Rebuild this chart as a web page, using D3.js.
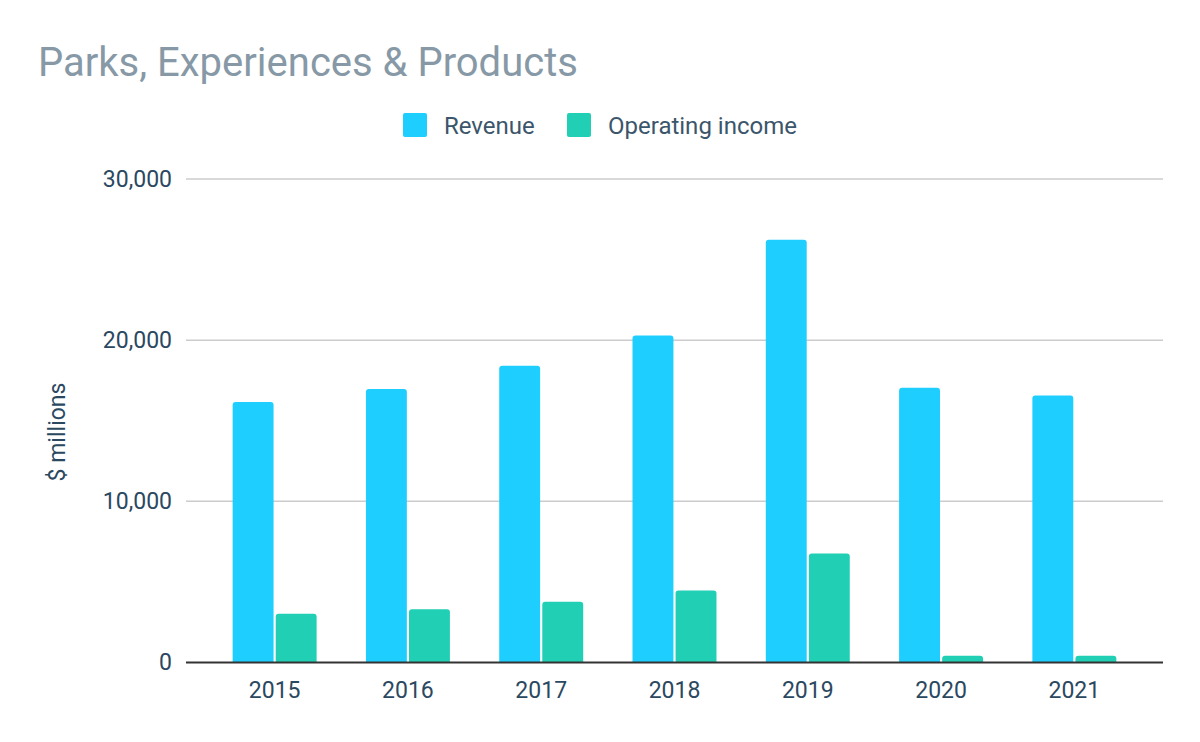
<!DOCTYPE html>
<html>
<head>
<meta charset="utf-8">
<script src="https://cdn.jsdelivr.net/npm/d3@7"></script>
<style>
  html, body { margin: 0; padding: 0; background: #fff; }
  svg text { font-family: Roboto, "Noto Sans", sans-serif; }
</style>
</head>
<body>
<svg id="chart" width="1200" height="742"></svg>
<script>
const years = ["2015", "2016", "2017", "2018", "2019", "2020", "2021"];
const revenue = [16162, 16974, 18415, 20296, 26225, 17040, 16560];
const operatingIncome = [3031, 3298, 3774, 4469, 6758, 420, 420];
const seriesNames = ["Revenue", "Operating income"];
const seriesColors = ["#1ECEFF", "#21CFB5"];
const yTicks = [0, 10000, 20000, 30000];

const svg = d3.select("#chart");
const W = 1200, H = 742;
const margin = { left: 186, right: 37, top: 179, bottom: 80 };
const plotBottom = 662.5;

const x = d3.scaleBand().domain(years).range([margin.left, W - margin.right])
  .paddingInner(0.37).paddingOuter(0.35);
const x1 = d3.scaleBand().domain(seriesNames).range([0, x.bandwidth()]).paddingInner(0.05);
const y = d3.scaleLinear().domain([0, 30000]).range([plotBottom, margin.top]);

svg.append("rect").attr("width", W).attr("height", H).attr("fill", "#fff");

// Title
svg.append("text").attr("x", 38).attr("y", 76)
  .attr("font-size", 40).attr("fill", "#8799A6")
  .text("Parks, Experiences & Products");

// Legend
const legend = [
  { name: seriesNames[0], color: seriesColors[0], sx: 403, tx: 444 },
  { name: seriesNames[1], color: seriesColors[1], sx: 567, tx: 608 }
];
legend.forEach(l => {
  svg.append("rect").attr("x", l.sx).attr("y", 113).attr("width", 24).attr("height", 24)
    .attr("rx", 2).attr("fill", l.color);
  svg.append("text").attr("x", l.tx).attr("y", 134).attr("font-size", 24)
    .attr("fill", "#3B566B").text(l.name);
});

// Gridlines + y axis
const yAxis = d3.axisLeft(y).tickValues(yTicks).tickSize(0).tickPadding(14)
  .tickFormat(d3.format(","));
const gy = svg.append("g").attr("transform", `translate(${margin.left},0)`).call(yAxis);
gy.select(".domain").remove();
gy.selectAll("text").attr("font-size", 23).attr("fill", "#2B4861")
  .attr("font-family", "Roboto, 'Noto Sans', sans-serif");

svg.append("g").selectAll("line").data(yTicks.filter(d => d !== 0)).join("line")
  .attr("x1", margin.left).attr("x2", W - margin.right)
  .attr("y1", d => y(d)).attr("y2", d => y(d))
  .attr("stroke", "#CCCCCC").attr("stroke-width", 1.5);

// Y title
svg.append("text").attr("transform", `translate(65,432) rotate(-90)`)
  .attr("text-anchor", "middle").attr("font-size", 23).attr("fill", "#2B4861")
  .text("$ millions");

// Bars
function topRounded(x0, y0, w, h, r) {
  r = Math.min(r, h, w / 2);
  return `M${x0},${y0 + h}V${y0 + r}Q${x0},${y0} ${x0 + r},${y0}H${x0 + w - r}Q${x0 + w},${y0} ${x0 + w},${y0 + r}V${y0 + h}Z`;
}
const data = years.map((yr, i) => ({ year: yr, values: [revenue[i], operatingIncome[i]] }));
const groups = svg.append("g").selectAll("g").data(data).join("g")
  .attr("transform", d => `translate(${x(d.year)},0)`);
groups.selectAll("path").data(d => d.values.map((v, j) => ({ v, j }))).join("path")
  .attr("fill", d => seriesColors[d.j])
  .attr("d", d => topRounded(x1(seriesNames[d.j]), y(d.v), x1.bandwidth(), plotBottom - y(d.v), 3));

// Baseline
svg.append("line").attr("x1", margin.left).attr("x2", W - margin.right)
  .attr("y1", plotBottom).attr("y2", plotBottom)
  .attr("stroke", "#333333").attr("stroke-width", 2);

// X axis labels
const xAxis = d3.axisBottom(x).tickSize(0).tickPadding(19);
const gx = svg.append("g").attr("transform", `translate(0,${plotBottom})`).call(xAxis);
gx.select(".domain").remove();
gx.selectAll("text").attr("font-size", 23).attr("fill", "#2B4861")
  .attr("font-family", "Roboto, 'Noto Sans', sans-serif");
</script>
</body>
</html>
